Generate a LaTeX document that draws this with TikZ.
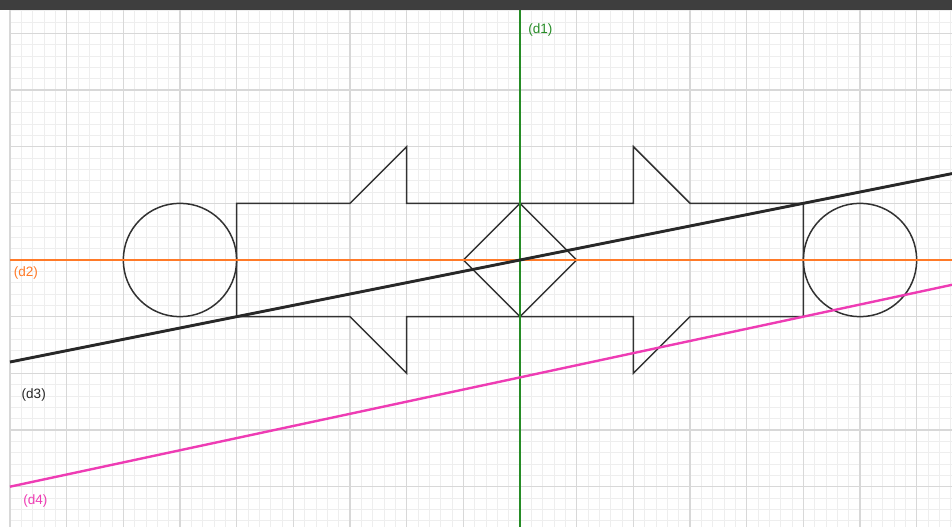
\documentclass[tikz,border=0pt]{standalone}
\usepackage{fontspec}
\setmainfont{Liberation Sans}
\definecolor{gridminor}{RGB}{238,238,238}
\definecolor{gridmajor}{RGB}{216,216,216}
\definecolor{topbar}{RGB}{62,62,62}
\definecolor{shapegray}{RGB}{50,50,50}
\definecolor{lined1}{RGB}{38,140,38}
\definecolor{lined2}{RGB}{255,122,40}
\definecolor{lined3}{RGB}{40,40,40}
\definecolor{lined4}{RGB}{238,60,180}
\usetikzlibrary{positioning}

\begin{document}
\begin{tikzpicture}[
    shapeline/.style={draw=shapegray, line width=0.75pt},
    dline/.style={line width=1.2pt},
    lbl/.style={font=\fontsize{6.8}{8}\selectfont, inner sep=0pt, anchor=west}]
  \useasboundingbox (-9.176,-4.711) rectangle (7.623,4.588);
  % grid and title bar
  \draw[gridminor, line width=0.4pt, step=0.2] (-9,-4.711) grid (7.623,4.41);
  \draw[gridmajor, line width=0.6pt, step=1] (-9,-4.711) grid (7.623,4.41);
  \fill[topbar] (-9.176,4.41) rectangle (7.623,4.588);

  % shapes
  \draw[shapeline] (-6,0) circle (1);
  \draw[shapeline] (6,0) circle (1);
  \draw[shapeline] (-5,-1) -- (-5,1) -- (-3,1) -- (-2,2) -- (-2,1) -- (2,1) -- (2,2)
    -- (3,1) -- (5,1) -- (5,-1) -- (3,-1) -- (2,-2) -- (2,-1) -- (-2,-1) -- (-2,-2)
    -- (-3,-1) -- cycle;
  \draw[shapeline] (0,1) -- (1,0) -- (0,-1) -- (-1,0) -- cycle;

  % line ends
  \coordinate (d1a) at (0,4.41);
  \coordinate (d1b) at (0,-4.711);
  \coordinate (d2a) at (-9,0);
  \coordinate (d2b) at (7.623,0);
  \coordinate (d3a) at (-9,-1.8);
  \coordinate (d3b) at (7.623,1.5246);
  \coordinate (d4a) at (-9,-4);
  \coordinate (d4b) at (7.623,-0.438);

  % lines
  \draw[dline, lined2] (d2a) -- (d2b);
  \draw[dline, lined1] (d1a) -- (d1b);
  \draw[dline, lined3, line width=1.45pt] (d3a) -- (d3b);
  \draw[dline, lined4] (d4a) -- (d4b);

  \node[lbl, text=lined1] (d1label) at (0.14,4.06) {(d1)};
  \node[lbl, text=lined2] (d2label) at (-8.94,-0.23) {(d2)};
  \node[lbl, text=lined3] (d3label) at (-8.8,-2.38) {(d3)};
  \node[lbl, text=lined4] (d4label) at (-8.77,-4.25) {(d4)};
\end{tikzpicture}
\end{document}
